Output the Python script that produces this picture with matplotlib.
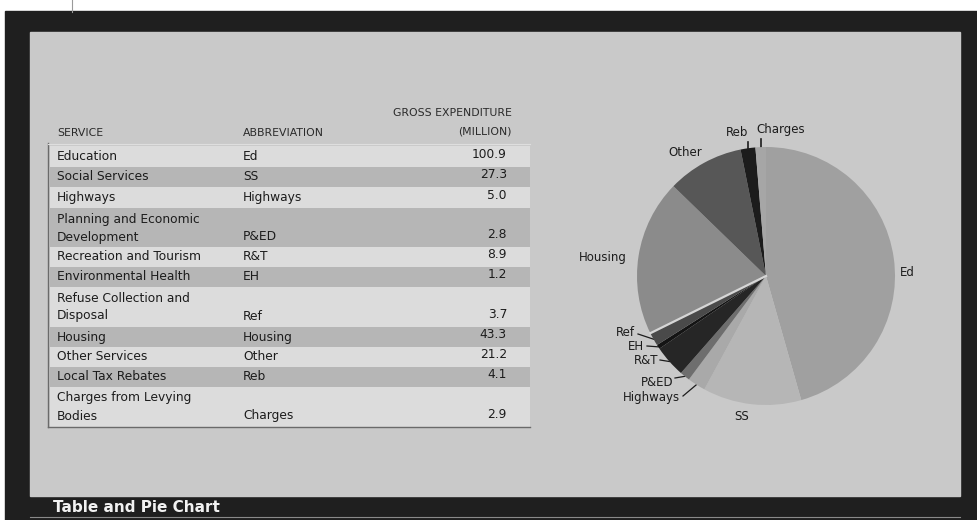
import numpy as np
import matplotlib
matplotlib.use("Agg")
import matplotlib.pyplot as plt
from matplotlib.patches import Rectangle

plt.rcParams['font.family'] = ['DejaVu Sans']

# table / pie data
services = ["Education", "Social Services", "Highways",
            "Planning and Economic\nDevelopment", "Recreation and Tourism",
            "Environmental Health", "Refuse Collection and\nDisposal",
            "Housing", "Other Services", "Local Tax Rebates",
            "Charges from Levying\nBodies"]
abbrevs = ["Ed", "SS", "Highways", "P&ED", "R&T", "EH", "Ref",
           "Housing", "Other", "Reb", "Charges"]
expenditure = [100.9, 27.3, 5.0, 2.8, 8.9, 1.2, 3.7, 43.3, 21.2, 4.1, 2.9]

slice_colors = ["#a0a0a0", "#b6b6b6", "#a9a9a9", "#6e6e6e", "#262626",
                "#141414", "#4a4a4a", "#8b8b8b", "#575757", "#1c1c1c", "#a6a6a6"]

W, H = 977, 520
fig = plt.figure(figsize=(W / 100, H / 100), dpi=100)
fig.patch.set_facecolor("white")
ax = fig.add_axes([0, 0, 1, 1])
ax.set_xlim(0, W)
ax.set_ylim(H, 0)
ax.axis("off")

ink = "#1c1c1c"

# frame + panel
ax.plot([72, 72], [0, 12], color="#9a9a9a", lw=0.8)
ax.add_patch(Rectangle((5, 11), W - 5, H - 11, color="#1f1f1f", zorder=0))
ax.add_patch(Rectangle((30, 32), 930, 464, color="#c9c9c9", zorder=1))
ax.plot([30, 960], [517, 517], color="#8a8a8a", lw=0.8)
ax.text(53, 507, "Table and Pie Chart", color="#f2f2f2", fontsize=11,
        fontweight="bold", va="center", ha="left")

# table
row_h = [21, 20, 21, 39, 20, 20, 40, 20, 20, 20, 40]
top = 146
tops = []
for h in row_h:
    tops.append(top)
    top += h

for i, (t, h) in enumerate(zip(tops, row_h)):
    c = "#dcdcdc" if i % 2 == 0 else "#b6b6b6"
    ax.add_patch(Rectangle((50, t), 480, h, color=c, zorder=2, lw=0))

ax.plot([48, 48], [143, 427], color="#6a6a6a", lw=1, zorder=3)
ax.plot([48, 530], [427, 427], color="#6a6a6a", lw=1, zorder=3)
ax.plot([48, 530], [144, 144], color="#dedede", lw=0.8, zorder=3)

hdr = dict(fontsize=7.8, color="#2a2a2a", va="center", zorder=4)
ax.text(57, 133, "SERVICE", ha="left", **hdr)
ax.text(243, 133, "ABBREVIATION", ha="left", **hdr)
ax.text(512, 113, "GROSS EXPENDITURE", ha="right", **hdr)
ax.text(512, 132, "(MILLION)", ha="right", **hdr)

cell = dict(fontsize=8.8, color=ink, va="center", zorder=4)
for s, a, v, t, h in zip(services, abbrevs, expenditure, tops, row_h):
    lines = s.split("\n")
    if len(lines) == 1:
        ys = [t + h / 2]
    else:
        ys = [t + 11 + 18 * k for k in range(len(lines))]
    for ln, y in zip(lines, ys):
        ax.text(57, y, ln, ha="left", **cell)
    ax.text(243, ys[-1], a, ha="left", **cell)
    ax.text(507, ys[-1] - 2, f"{v:.1f}", ha="right", **cell)

# pie
cx, cy, R = 766, 276, 129
pax = fig.add_axes([(cx - R) / W, (H - cy - R) / H, 2 * R / W, 2 * R / H])
pax.pie(expenditure, colors=slice_colors, startangle=90, counterclock=False,
        radius=1, wedgeprops=dict(linewidth=0))
pax.set_xlim(-1, 1)
pax.set_ylim(-1, 1)
pax.axis("off")

frac = np.array(expenditure) / np.sum(expenditure)
ends = 90 - 360 * np.cumsum(frac)
mids = np.radians(ends + 180 * frac)
edge_x = cx + R * np.cos(mids)
edge_y = cy - R * np.sin(mids)

# light seam between Ref and Housing
k = abbrevs.index("Ref")
a = np.radians(ends[k])
pax.plot([0, np.cos(a)], [0, np.sin(a)], color="#d6d6d6", lw=1.6)

lab = dict(fontsize=8.5, color=ink, va="center", zorder=5)
ax.text(907, 272, "Ed", ha="center", **lab)
ax.text(742, 417, "SS", ha="center", **lab)
ax.text(603, 257, "Housing", ha="center", **lab)
ax.text(685, 153, "Other", ha="center", **lab)

# labels with leader lines: (text x, text y, ha, line start)
leaders = {
    "Ref": (635, 333, "right", (638, 334)),
    "EH": (644, 346, "right", (647, 346)),
    "R&T": (658, 360, "right", (660, 360)),
    "P&ED": (673, 382, "right", (675, 378)),
    "Highways": (680, 397, "right", (683, 396)),
}
for name, (tx, ty, ha, (sx, sy)) in leaders.items():
    k = abbrevs.index(name)
    ax.text(tx, ty, name, ha=ha, **lab)
    ax.plot([sx, edge_x[k]], [sy, edge_y[k]], color=ink, lw=0.9, zorder=5)

k = abbrevs.index("Reb")
ax.text(edge_x[k], 133, "Reb", ha="right", **lab)
ax.plot([edge_x[k], edge_x[k]], [142, edge_y[k] + 3], color=ink, lw=1.2, zorder=5)
k = abbrevs.index("Charges")
ax.text(edge_x[k] - 4, 130, "Charges", ha="left", **lab)
ax.plot([edge_x[k], edge_x[k]], [139, edge_y[k] + 3], color=ink, lw=1.2, zorder=5)

fig.savefig("out.png", dpi=100)
